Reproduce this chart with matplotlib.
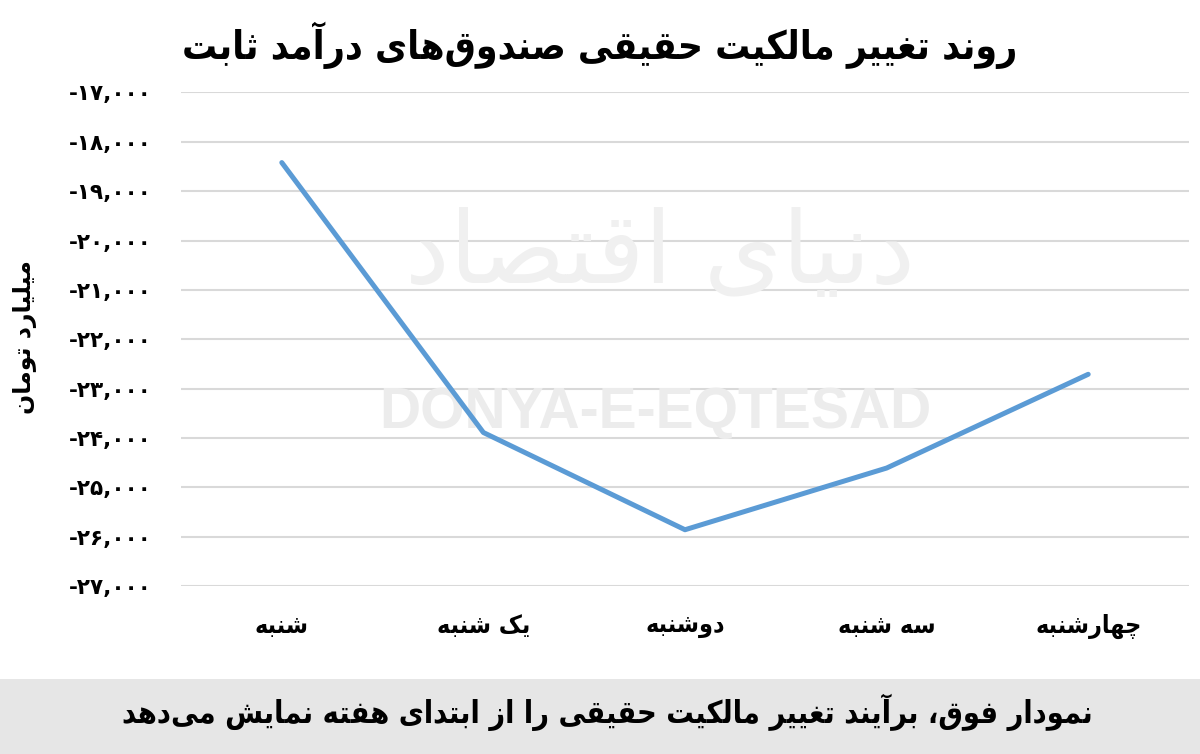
import matplotlib
matplotlib.use("Agg")
import matplotlib.pyplot as plt
from matplotlib.patches import Rectangle

# ---------------- data ----------------
categories = ["شنبه", "یک شنبه", "دوشنبه", "سه شنبه", "چهارشنبه"]
values = [-18420, -23890, -25860, -24610, -22710]
y_ticks = [-17000, -18000, -19000, -20000, -21000, -22000, -23000, -24000, -25000, -26000, -27000]
title_text = "روند تغییر مالکیت حقیقی صندوق\u200cهای درآمد ثابت"
ylabel_text = "میلیارد تومان"
footer_text = "نمودار فوق، برآیند تغییر مالکیت حقیقی را از ابتدای هفته نمایش می\u200cدهد"
watermark_fa = "دنیای اقتصاد"
watermark_en = "DONYA-E-EQTESAD"

# ---------------- minimal Arabic/Persian shaping ----------------
FORMS = {
    '\u0627': (0xFE8D, 0xFE8E, None, None),
    '\u0622': (0xFE81, 0xFE82, None, None),
    '\u0628': (0xFE8F, 0xFE90, 0xFE91, 0xFE92),
    '\u067E': (0xFB56, 0xFB57, 0xFB58, 0xFB59),
    '\u062A': (0xFE95, 0xFE96, 0xFE97, 0xFE98),
    '\u062B': (0xFE99, 0xFE9A, 0xFE9B, 0xFE9C),
    '\u062C': (0xFE9D, 0xFE9E, 0xFE9F, 0xFEA0),
    '\u0686': (0xFB7A, 0xFB7B, 0xFB7C, 0xFB7D),
    '\u062D': (0xFEA1, 0xFEA2, 0xFEA3, 0xFEA4),
    '\u062E': (0xFEA5, 0xFEA6, 0xFEA7, 0xFEA8),
    '\u062F': (0xFEA9, 0xFEAA, None, None),
    '\u0630': (0xFEAB, 0xFEAC, None, None),
    '\u0631': (0xFEAD, 0xFEAE, None, None),
    '\u0632': (0xFEAF, 0xFEB0, None, None),
    '\u0698': (0xFB8A, 0xFB8B, None, None),
    '\u0633': (0xFEB1, 0xFEB2, 0xFEB3, 0xFEB4),
    '\u0634': (0xFEB5, 0xFEB6, 0xFEB7, 0xFEB8),
    '\u0635': (0xFEB9, 0xFEBA, 0xFEBB, 0xFEBC),
    '\u0636': (0xFEBD, 0xFEBE, 0xFEBF, 0xFEC0),
    '\u0637': (0xFEC1, 0xFEC2, 0xFEC3, 0xFEC4),
    '\u0638': (0xFEC5, 0xFEC6, 0xFEC7, 0xFEC8),
    '\u0639': (0xFEC9, 0xFECA, 0xFECB, 0xFECC),
    '\u063A': (0xFECD, 0xFECE, 0xFECF, 0xFED0),
    '\u0641': (0xFED1, 0xFED2, 0xFED3, 0xFED4),
    '\u0642': (0xFED5, 0xFED6, 0xFED7, 0xFED8),
    '\u06A9': (0xFB8E, 0xFB8F, 0xFB90, 0xFB91),
    '\u06AF': (0xFB92, 0xFB93, 0xFB94, 0xFB95),
    '\u0644': (0xFEDD, 0xFEDE, 0xFEDF, 0xFEE0),
    '\u0645': (0xFEE1, 0xFEE2, 0xFEE3, 0xFEE4),
    '\u0646': (0xFEE5, 0xFEE6, 0xFEE7, 0xFEE8),
    '\u0647': (0xFEE9, 0xFEEA, 0xFEEB, 0xFEEC),
    '\u0648': (0xFEED, 0xFEEE, None, None),
    '\u06CC': (0xFBFC, 0xFBFD, 0xFBFE, 0xFBFF),
    '\u0626': (0xFE89, 0xFE8A, 0xFE8B, 0xFE8C),
}


def _dual(c):
    return c in FORMS and FORMS[c][2] is not None


def shape(text):
    out = []
    n = len(text)
    i = 0
    while i < n:
        c = text[i]
        if c == '\u200c':
            i += 1
            continue
        if c not in FORMS:
            out.append(c)
            i += 1
            continue
        prev = text[i - 1] if i > 0 else ''
        join_prev = _dual(prev)
        if c == '\u0644' and i + 1 < n and text[i + 1] in ('\u0627', '\u0622'):
            if text[i + 1] == '\u0627':
                out.append(chr(0xFEFC if join_prev else 0xFEFB))
            else:
                out.append(chr(0xFEF6 if join_prev else 0xFEF5))
            i += 2
            continue
        nxt = text[i + 1] if i + 1 < n else ''
        join_next = _dual(c) and nxt in FORMS
        iso, fin, ini, med = FORMS[c]
        if join_prev and join_next:
            g = med
        elif join_prev:
            g = fin
        elif join_next:
            g = ini
        else:
            g = iso
        out.append(chr(g))
        i += 1
    return ''.join(reversed(out))


PERSIAN_DIGITS = str.maketrans("0123456789", "۰۱۲۳۴۵۶۷۸۹")


def fa_num(v):
    s = f"{abs(v):,}".translate(PERSIAN_DIGITS)
    return ("-" if v < 0 else "") + s


# ---------------- figure ----------------
plt.rcParams['font.family'] = ['DejaVu Sans']
fig = plt.figure(figsize=(12, 7.54), dpi=100)
fig.patch.set_facecolor('white')

# footer band
fig.patches.append(Rectangle((0, 0), 1, 75 / 754, transform=fig.transFigure,
                             facecolor='#e6e6e6', edgecolor='none', zorder=0))

ax = fig.add_axes([181 / 1200, 1 - 586 / 754, (1189 - 181) / 1200, (586 - 92.5) / 754])
ax.set_facecolor('none')

x = list(range(len(categories)))
ax.plot(x, values, color='#5b9bd5', lw=3.6, solid_capstyle='round',
        solid_joinstyle='round', zorder=5)

ax.set_xlim(-0.5, len(categories) - 0.5)
ax.set_ylim(y_ticks[-1], y_ticks[0])
ax.set_yticks(y_ticks)
ax.set_yticklabels([fa_num(v) for v in y_ticks], fontsize=15.5, fontweight='bold')
ax.set_xticks(x)
ax.set_xticklabels([shape(c) for c in categories], fontsize=18, fontweight='bold',
                   fontstretch='condensed')
ax.tick_params(axis='both', length=0)
ax.tick_params(axis='y', pad=21)
ax.tick_params(axis='x', pad=20)
ax.grid(axis='y', color='#d9d9d9', lw=1.5, zorder=1)
ax.set_axisbelow(True)
for s in ax.spines.values():
    s.set_visible(False)

# watermarks (below the data line)
ax.text(655 / 1200, 1 - 413 / 754, watermark_en, fontsize=41, fontweight='bold',
        family='Liberation Sans', color='#ececec', ha='center', va='center',
        transform=fig.transFigure, zorder=2, clip_on=False)
ax.text(660 / 1200, 1 - 255 / 754, shape(watermark_fa), fontsize=72,
        color='#f0f0f0', ha='center', va='center',
        transform=fig.transFigure, zorder=2, clip_on=False)

# title, y label, footer
fig.text(600 / 1200, 1 - 45 / 754, shape(title_text), fontsize=28, fontweight='bold',
         fontstretch='condensed', ha='center', va='center')
fig.text(25 / 1200, 1 - 337 / 754, shape(ylabel_text), fontsize=17, fontweight='bold',
         rotation=90, ha='center', va='center')
fig.text(607 / 1200, 1 - 712 / 754, shape(footer_text), fontsize=22, fontweight='bold',
         fontstretch='condensed', ha='center', va='center')

fig.savefig('out.png', dpi=100)
